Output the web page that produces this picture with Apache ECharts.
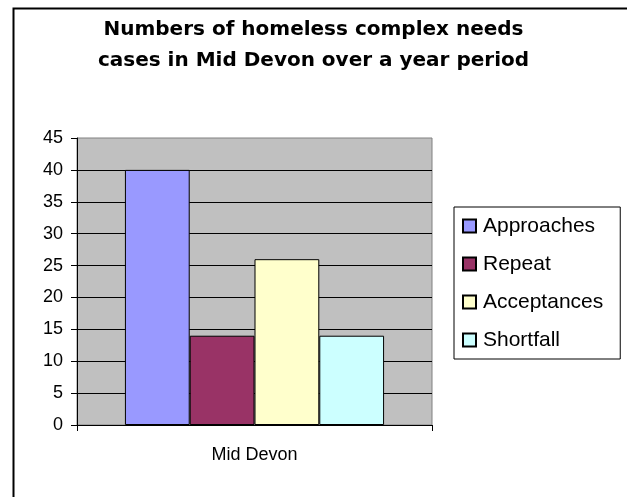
<!DOCTYPE html>
<html>
<head>
<meta charset="utf-8">
<script src="https://cdn.jsdelivr.net/npm/echarts@6/dist/echarts.min.js"></script>
<style>
html,body{margin:0;padding:0;background:#fff;}
#chart{width:627px;height:497px;}
</style>
</head>
<body>
<div id="chart"></div>
<script>
const titleLines = ['Numbers of homeless complex needs', 'cases in Mid Devon over a year period'];
const categories = ['Mid Devon'];
const seriesNames = ['Approaches', 'Repeat', 'Acceptances', 'Shortfall'];
const approaches = [40];
const repeat = [14];
const acceptances = [26];
const shortfall = [14];
const seriesValues = [approaches, repeat, acceptances, shortfall];
const colors = ['#9999FF', '#993366', '#FFFFCC', '#CCFFFF'];
const yMin = 0, yMax = 45, yStep = 5;

const chart = echarts.init(document.getElementById('chart'), null, {renderer: 'canvas'});
const labelFont = 'Liberation Sans, Arial, sans-serif';
chart.setOption({
  animation: false,
  backgroundColor: '#fff',
  graphic: [{
    type: 'rect', left: 11, top: 6, z: 100, silent: true,
    shape: {width: 1200, height: 1000},
    style: {fill: null, stroke: '#000', lineWidth: 2}
  }],
  title: {
    text: titleLines.join('\n'),
    left: 'center', top: 9,
    textStyle: {fontFamily: 'DejaVu Sans', fontWeight: 'bold', fontSize: 20, lineHeight: 31, color: '#000'}
  },
  legend: {
    orient: 'vertical', left: 454, top: 207,
    data: seriesNames,
    icon: 'rect', itemWidth: 13, itemHeight: 13, itemGap: 14,
    padding: [7, 17, 7, 8],
    borderColor: '#000', borderWidth: 1,
    textStyle: {fontFamily: labelFont, fontSize: 21, lineHeight: 24, color: '#000', padding: [0, 0, 0, 2]}
  },
  grid: {
    left: 77, right: 195, top: 138, bottom: 72,
    show: true, backgroundColor: '#C0C0C0', borderColor: '#808080', borderWidth: 1
  },
  xAxis: {
    type: 'category', data: categories,
    axisLine: {lineStyle: {color: '#000', width: 1}},
    axisTick: {show: true, length: 6, lineStyle: {color: '#000'}},
    axisLabel: {fontFamily: labelFont, fontSize: 18, color: '#000', margin: 21}
  },
  yAxis: {
    type: 'value', min: yMin, max: yMax, interval: yStep,
    axisLine: {show: true, lineStyle: {color: '#000', width: 1}},
    axisTick: {show: true, length: 6, lineStyle: {color: '#000'}},
    axisLabel: {fontFamily: labelFont, fontSize: 18, color: '#000', margin: 14},
    splitLine: {show: true, showMaxLine: false, lineStyle: {color: '#000', width: 1}}
  },
  series: seriesNames.map((name, i) => ({
    name: name, type: 'bar', data: seriesValues[i],
    barGap: '0%', barCategoryGap: '27%',
    itemStyle: {color: colors[i], borderColor: '#000', borderWidth: 1}
  }))
});
</script>
</body>
</html>
